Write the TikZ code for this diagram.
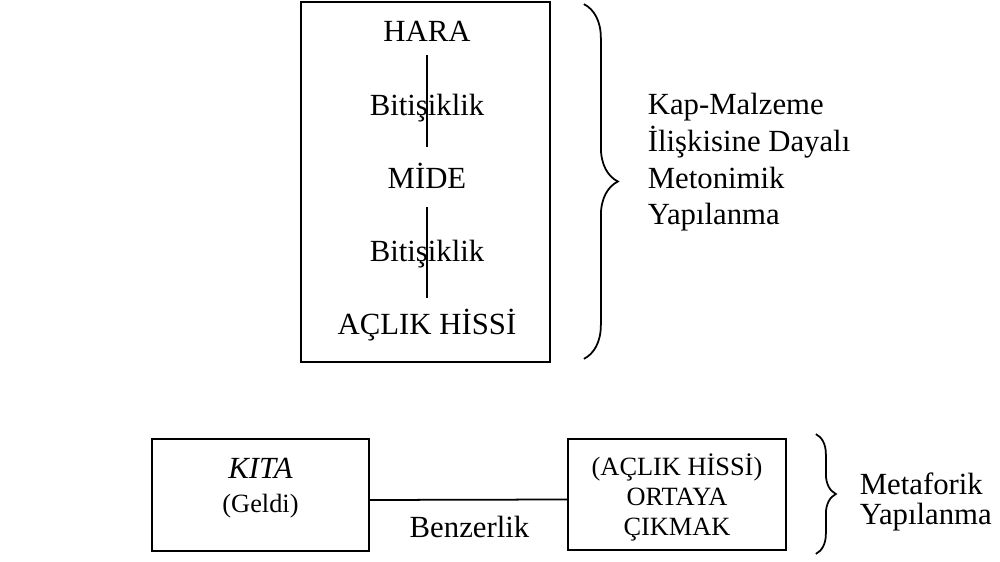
\documentclass[tikz,border=0pt]{standalone}
\usepackage{fontspec}
\setmainfont{Liberation Serif}
\usetikzlibrary{positioning,decorations.pathreplacing}

\begin{document}
\begin{tikzpicture}[node distance=1.465cm, line width=1pt,
  box/.style={draw, rectangle, inner sep=0pt},
  big/.style={font=\fontsize{17.5}{21}\selectfont, inner sep=0pt},
  small/.style={font=\fontsize{15}{17}\selectfont, inner sep=0pt},
  curly/.style={decorate, decoration={brace, amplitude=#1}}]
  \useasboundingbox (0,0) rectangle (20,-11.24);

  % metonymic chain
  \node[box, minimum width=4.98cm, minimum height=7.2cm] (chain) at (8.51,-3.64) {};
  \node[big, anchor=base] (hara) at (8.54,-0.84) {HARA};
  \node[big, below=of hara.base, anchor=base] (bit1) {Bitişiklik};
  \node[big, below=of bit1.base, anchor=base] (mide) {MİDE};
  \node[big, below=of mide.base, anchor=base] (bit2) {Bitişiklik};
  \node[big, below=of bit2.base, anchor=base] (aclik) {AÇLIK HİSSİ};

  \draw ([yshift=-0.26cm]hara.base) -- ([yshift=0.82cm]mide.base);
  \draw ([yshift=-0.38cm]mide.base) -- ([yshift=0.74cm]aclik.base);

  \draw[curly=0.68cm] ([xshift=0.66cm,yshift=-0.06cm]chain.north east) -- ([xshift=0.66cm,yshift=0.08cm]chain.south east);
  \node[big, align=left, anchor=north west] (meto) at (12.94,-1.84) {Kap-Malzeme\\İlişkisine Dayalı\\Metonimik\\Yapılanma};

  % metaphoric part
  \node[box, minimum width=4.34cm, minimum height=2.24cm] (kitabox) at (5.21,-9.9) {};
  \node[big, anchor=base, font=\fontsize{17.5}{21}\selectfont\itshape] (kita) at (5.21,-9.58) {KITA};
  \node[small, below=0.68cm of kita.base, anchor=base] (geldi) {(Geldi)};

  \node[box, minimum width=4.36cm, minimum height=2.22cm] (outbox) at (13.54,-9.89) {};
  \node[small, align=center, anchor=north] (ortaya) at (13.54,-9.06) {(AÇLIK HİSSİ)\\ORTAYA\\ÇIKMAK};

  \draw ([yshift=-0.1cm]kitabox.east) -- ([yshift=-0.1cm]outbox.west);
  \node[big, anchor=base] (benzer) at (9.39,-10.76) {Benzerlik};

  \draw[curly=0.4cm] ([xshift=0.58cm,yshift=0.08cm]outbox.north east) -- ([xshift=0.58cm,yshift=-0.06cm]outbox.south east);
  \node[big, align=left, anchor=north west, font=\fontsize{17.5}{17}\selectfont] (meta) at (17.18,-9.44) {Metaforik\\Yapılanma};
\end{tikzpicture}
\end{document}
